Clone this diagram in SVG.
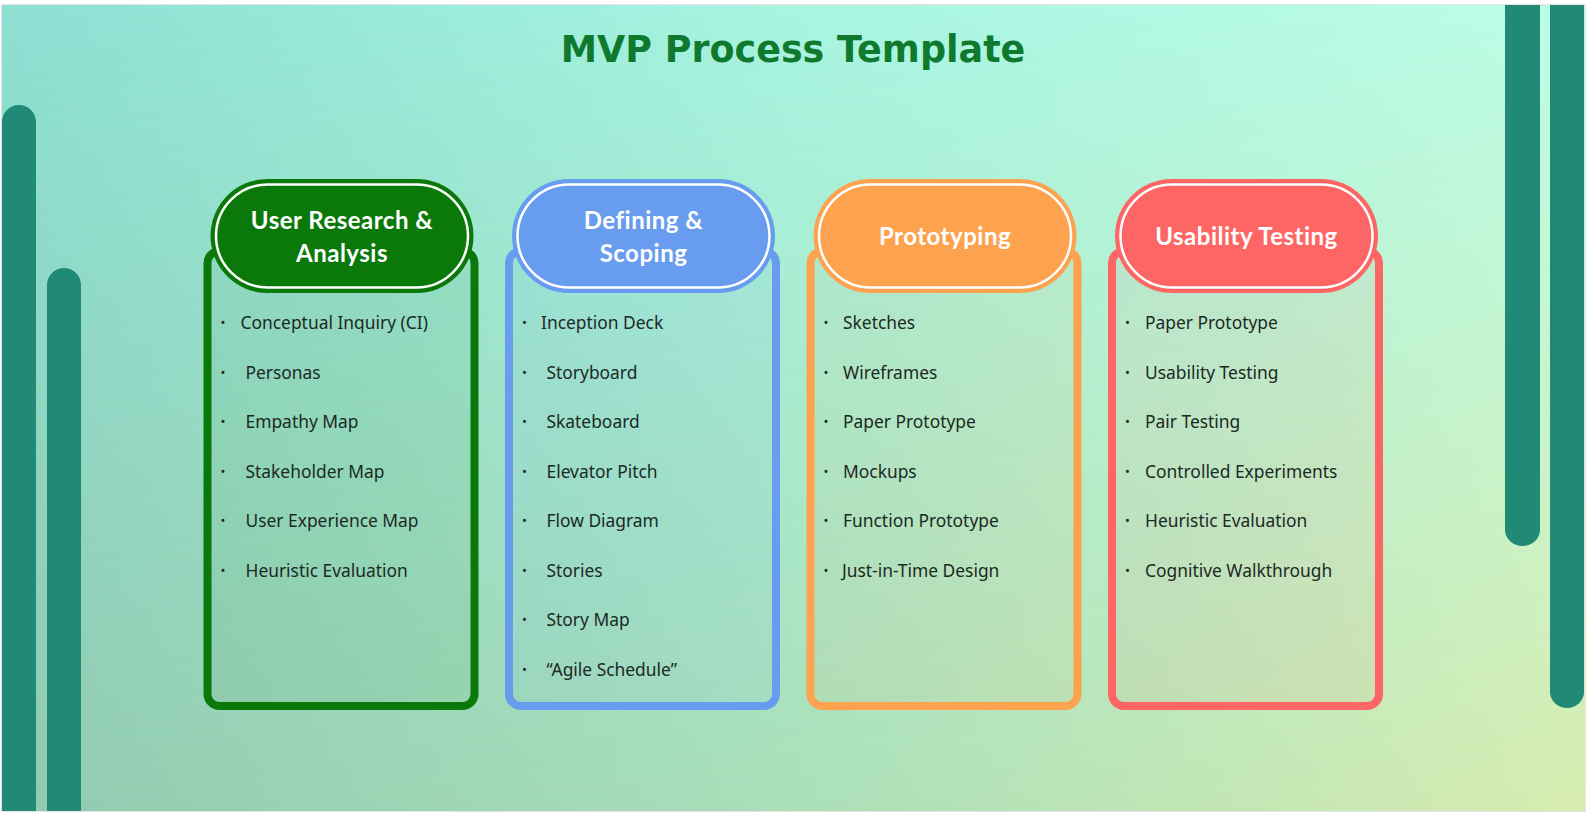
<svg xmlns="http://www.w3.org/2000/svg" width="1587" height="816" viewBox="0 0 1587 816">
<defs>
<linearGradient id="gTop" x1="0" y1="0" x2="1" y2="0">
<stop offset="0" stop-color="#8de0d3"/>
<stop offset="0.5" stop-color="#a8f5e2"/>
<stop offset="1" stop-color="#bdfde7"/>
</linearGradient>
<linearGradient id="gBot" x1="0" y1="0" x2="1" y2="0">
<stop offset="0" stop-color="#90c9b0"/>
<stop offset="0.5" stop-color="#aadfb8"/>
<stop offset="1" stop-color="#d7ecb0"/>
</linearGradient>
<linearGradient id="gMask" x1="0" y1="0" x2="0" y2="1">
<stop offset="0" stop-color="#fff" stop-opacity="0"/>
<stop offset="1" stop-color="#fff" stop-opacity="1"/>
</linearGradient>
<mask id="mBot" maskUnits="userSpaceOnUse" x="0" y="0" width="1587" height="816">
<rect x="2" y="5" width="1583" height="806" fill="url(#gMask)"/>
</mask>
<style>
.bar{fill:#218a76}
.body{stroke-width:8}
.pill{stroke:none}
.ring{fill:none;stroke:#fff;stroke-width:2.5}
.head{font-family:Lato,"Noto Sans",sans-serif;font-weight:700;font-size:24px;letter-spacing:0.5px;fill:#fff;text-anchor:middle}
.item{font-family:"Noto Sans","Open Sans",sans-serif;font-size:17.4px;fill:#1c2925}
.bul{font-family:"Noto Sans",sans-serif;font-size:13px;fill:#1c2925}
.title{font-family:"DejaVu Sans","Noto Sans",sans-serif;font-weight:700;font-size:36.5px;fill:#0f7a2e;text-anchor:middle}
</style>
</defs>
<rect x="0" y="0" width="1587" height="816" fill="#ffffff"/>
<rect x="2" y="5" width="1583" height="806" fill="url(#gTop)"/>
<rect x="2" y="5" width="1583" height="806" fill="url(#gBot)" mask="url(#mBot)"/>
<rect x="1.5" y="4.5" width="1584" height="807" fill="none" stroke="#e4e4e4" stroke-width="1"/>

<g id="decor">
<path class="bar" d="M2 811 V122 a17 17 0 0 1 34 0 V811 Z"/>
<path class="bar" d="M47 811 V285 a17 17 0 0 1 34 0 V811 Z"/>
<path class="bar" d="M1505 5 V530 a17.5 16 0 0 0 35 0 V5 Z"/>
<path class="bar" d="M1550 5 V692 a17 16 0 0 0 34 0 V5 Z"/>
</g>

<text id="title" class="title" x="793" y="62">MVP Process Template</text>

<g id="card1" transform="translate(203.5,0)">
<rect class="body" x="4" y="251" width="267" height="455" rx="12" fill="#0a790a" fill-opacity="0.06" stroke="#0a790a"/>
<rect class="pill" x="7" y="179" width="263" height="114" rx="57" fill="#0a790a"/>
<rect class="ring" x="12.5" y="184.5" width="252" height="103" rx="51.5"/>
<text class="head" x="138.5" y="229">User Research &amp;</text>
<text class="head" x="138.5" y="262">Analysis</text>
<g>
<text class="bul" x="17" y="327">•</text><text class="item" x="37" y="329">Conceptual Inquiry (CI)</text>
<text class="bul" x="17" y="376.5">•</text><text class="item" x="42" y="378.5">Personas</text>
<text class="bul" x="17" y="426">•</text><text class="item" x="42" y="428">Empathy Map</text>
<text class="bul" x="17" y="475.5">•</text><text class="item" x="42" y="477.5">Stakeholder Map</text>
<text class="bul" x="17" y="525">•</text><text class="item" x="42" y="527">User Experience Map</text>
<text class="bul" x="17" y="574.5">•</text><text class="item" x="42" y="576.5">Heuristic Evaluation</text>
</g>
</g>

<g id="card2" transform="translate(505,0)">
<rect class="body" x="4" y="251" width="267" height="455" rx="12" fill="#689cef" fill-opacity="0.07" stroke="#689cef"/>
<rect class="pill" x="7" y="179" width="263" height="114" rx="57" fill="#689cef"/>
<rect class="ring" x="12.5" y="184.5" width="252" height="103" rx="51.5"/>
<text class="head" x="138.5" y="229">Defining &amp;</text>
<text class="head" x="138.5" y="262">Scoping</text>
<g>
<text class="bul" x="17" y="327">•</text><text class="item" x="36" y="329">Inception Deck</text>
<text class="bul" x="17" y="376.5">•</text><text class="item" x="41.5" y="378.5">Storyboard</text>
<text class="bul" x="17" y="426">•</text><text class="item" x="41.5" y="428">Skateboard</text>
<text class="bul" x="17" y="475.5">•</text><text class="item" x="41.5" y="477.5">Elevator Pitch</text>
<text class="bul" x="17" y="525">•</text><text class="item" x="41.5" y="527">Flow Diagram</text>
<text class="bul" x="17" y="574.5">•</text><text class="item" x="41.5" y="576.5">Stories</text>
<text class="bul" x="17" y="624">•</text><text class="item" x="41.5" y="626">Story Map</text>
<text class="bul" x="17" y="673.5">•</text><text class="item" x="41.5" y="675.5">“Agile Schedule”</text>
</g>
</g>

<g id="card3" transform="translate(806.5,0)">
<rect class="body" x="4" y="251" width="267" height="455" rx="12" fill="#fda24f" fill-opacity="0.07" stroke="#fda24f"/>
<rect class="pill" x="7" y="179" width="263" height="114" rx="57" fill="#fda24f"/>
<rect class="ring" x="12.5" y="184.5" width="252" height="103" rx="51.5"/>
<text class="head" x="138.5" y="245">Prototyping</text>
<g>
<text class="bul" x="17" y="327">•</text><text class="item" x="36.5" y="329">Sketches</text>
<text class="bul" x="17" y="376.5">•</text><text class="item" x="36.5" y="378.5">Wireframes</text>
<text class="bul" x="17" y="426">•</text><text class="item" x="36.5" y="428">Paper Prototype</text>
<text class="bul" x="17" y="475.5">•</text><text class="item" x="36.5" y="477.5">Mockups</text>
<text class="bul" x="17" y="525">•</text><text class="item" x="36.5" y="527">Function Prototype</text>
<text class="bul" x="17" y="574.5">•</text><text class="item" x="35.5" y="576.5">Just-in-Time Design</text>
</g>
</g>

<g id="card4" transform="translate(1108,0)">
<rect class="body" x="4" y="251" width="267" height="455" rx="12" fill="#fd6664" fill-opacity="0.07" stroke="#fd6664"/>
<rect class="pill" x="7" y="179" width="263" height="114" rx="57" fill="#fd6664"/>
<rect class="ring" x="12.5" y="184.5" width="252" height="103" rx="51.5"/>
<text class="head" x="138.5" y="245">Usability Testing</text>
<g>
<text class="bul" x="17" y="327">•</text><text class="item" x="37" y="329">Paper Prototype</text>
<text class="bul" x="17" y="376.5">•</text><text class="item" x="37" y="378.5">Usability Testing</text>
<text class="bul" x="17" y="426">•</text><text class="item" x="37" y="428">Pair Testing</text>
<text class="bul" x="17" y="475.5">•</text><text class="item" x="37" y="477.5">Controlled Experiments</text>
<text class="bul" x="17" y="525">•</text><text class="item" x="37" y="527">Heuristic Evaluation</text>
<text class="bul" x="17" y="574.5">•</text><text class="item" x="37" y="576.5">Cognitive Walkthrough</text>
</g>
</g>

<g id="connectors"></g>
</svg>
